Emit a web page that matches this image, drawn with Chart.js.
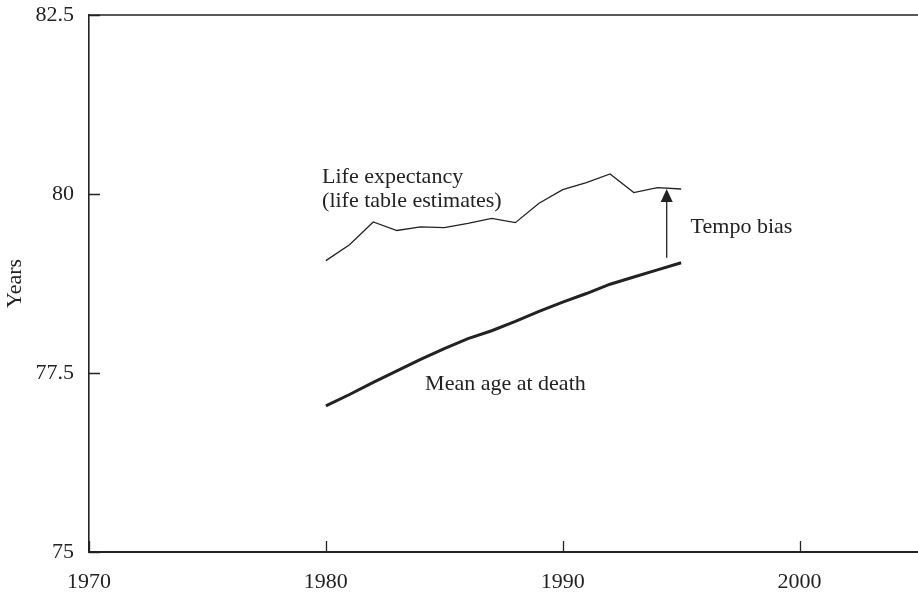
<!DOCTYPE html>
<html>
<head>
<meta charset="utf-8">
<title>Tempo bias</title>
<script src="https://cdn.jsdelivr.net/npm/chart.js@4.4.1/dist/chart.umd.min.js"></script>
<style>
  html, body { margin: 0; padding: 0; background: #fff; }
  #wrap { width: 918px; height: 594px; }
</style>
</head>
<body>
<div id="wrap"><canvas id="tempoChart" width="918" height="594"></canvas></div>
<script>
/* -------------------------------------------------------------------------- */
/* DATA                                                                       */
/* -------------------------------------------------------------------------- */
const years = [1980, 1981, 1982, 1983, 1984, 1985, 1986, 1987, 1988, 1989, 1990, 1991, 1992, 1993, 1994, 1995];
const lifeExpectancy = [79.07, 79.29, 79.61, 79.49, 79.54, 79.53, 79.59, 79.66, 79.60, 79.87, 80.06, 80.16, 80.28, 80.02, 80.09, 80.07];
const meanAgeAtDeath = [77.04, 77.20, 77.37, 77.53, 77.69, 77.84, 77.98, 78.09, 78.22, 78.36, 78.49, 78.61, 78.74, 78.84, 78.94, 79.04];

const xTicks = [1970, 1980, 1990, 2000];
const yTicks = [75, 77.5, 80, 82.5];

// annotations: [year, value]
const tempoArrow = { x: 1994.39, from: 79.11, to: 80.07 };
const notes = [
    { text: 'Life expectancy', x: 1979.84, y: 80.15 },
    { text: '(life table estimates)', x: 1979.84, y: 79.82 },
    { text: 'Mean age at death', x: 1984.19, y: 77.26 },
    { text: 'Tempo bias', x: 1995.40, y: 79.46 }
];

/* -------------------------------------------------------------------------- */
/* CHART                                                                      */
/* -------------------------------------------------------------------------- */
document.addEventListener('DOMContentLoaded', function() {
    const ink = '#222222';
    const serif = "'Liberation Serif', 'DejaVu Serif', serif";

    // ticks drawn inward, top frame line, arrow and text labels
    const framePlugin = {
        id: 'frame',
        afterDraw(chart) {
            const ctx = chart.ctx;
            const xs = chart.scales.x;
            const ys = chart.scales.y;
            const area = chart.chartArea;

            ctx.save();
            ctx.strokeStyle = ink;
            ctx.lineWidth = 1.3;

            ctx.beginPath();
            xTicks.forEach(v => {
                const px = Math.round(xs.getPixelForValue(v)) + 0.5;
                ctx.moveTo(px, area.bottom);
                ctx.lineTo(px, area.bottom - 11);
            });
            yTicks.forEach(v => {
                const py = Math.round(ys.getPixelForValue(v)) + 0.5;
                ctx.moveTo(area.left, py);
                ctx.lineTo(area.left + 11, py);
            });
            ctx.stroke();

            // top frame
            ctx.lineWidth = 1.6;
            ctx.beginPath();
            ctx.moveTo(area.left, area.top);
            ctx.lineTo(area.right, area.top);
            ctx.stroke();

            // tempo bias arrow
            const ax = xs.getPixelForValue(tempoArrow.x);
            const yFrom = ys.getPixelForValue(tempoArrow.from);
            const yTo = ys.getPixelForValue(tempoArrow.to);
            ctx.lineWidth = 1.3;
            ctx.beginPath();
            ctx.moveTo(ax, yFrom);
            ctx.lineTo(ax, yTo + 10);
            ctx.stroke();
            ctx.fillStyle = ink;
            ctx.beginPath();
            ctx.moveTo(ax, yTo);
            ctx.lineTo(ax - 6, yTo + 13);
            ctx.lineTo(ax + 6, yTo + 13);
            ctx.closePath();
            ctx.fill();

            // text labels
            ctx.font = '22px ' + serif;
            ctx.textAlign = 'left';
            ctx.textBaseline = 'alphabetic';
            notes.forEach(n => {
                ctx.fillText(n.text, xs.getPixelForValue(n.x), ys.getPixelForValue(n.y));
            });
            ctx.restore();
        }
    };

    new Chart(document.getElementById('tempoChart').getContext('2d'), {
        type: 'line',
        data: {
            datasets: [{
                label: 'Life expectancy',
                data: years.map((yr, i) => ({ x: yr, y: lifeExpectancy[i] })),
                borderColor: ink,
                borderWidth: 1.3,
                pointRadius: 0,
                tension: 0
            }, {
                label: 'Mean age at death',
                data: years.map((yr, i) => ({ x: yr, y: meanAgeAtDeath[i] })),
                borderColor: ink,
                borderWidth: 3,
                pointRadius: 0,
                tension: 0
            }]
        },
        options: {
            responsive: false,
            animation: false,
            layout: { padding: { top: 15, right: 0, left: 0, bottom: 0 } },
            plugins: {
                legend: { display: false },
                tooltip: { enabled: false }
            },
            scales: {
                x: {
                    type: 'linear',
                    min: 1970,
                    max: 2005,
                    afterBuildTicks: scale => { scale.ticks = xTicks.map(v => ({ value: v })); },
                    afterFit: scale => {
                        scale.height = 42;
                        scale.paddingLeft = 0;
                        scale.paddingRight = 0;
                    },
                    ticks: {
                        padding: 17,
                        color: ink,
                        font: { family: serif, size: 22 },
                        callback: v => String(v)
                    },
                    grid: { display: false, drawTicks: false },
                    border: { display: true, color: ink, width: 2 }
                },
                y: {
                    min: 75,
                    max: 82.5,
                    afterBuildTicks: scale => { scale.ticks = yTicks.map(v => ({ value: v })); },
                    afterFit: scale => {
                        scale.width = 89;
                        scale.paddingTop = 0;
                        scale.paddingBottom = 0;
                    },
                    ticks: {
                        padding: 15,
                        color: ink,
                        font: { family: serif, size: 22 },
                        callback: v => String(v)
                    },
                    title: {
                        display: true,
                        text: 'Years',
                        color: ink,
                        font: { family: serif, size: 22 },
                        padding: { top: 2, bottom: 0 }
                    },
                    grid: { display: false, drawTicks: false },
                    border: { display: true, color: ink, width: 1.6 }
                }
            }
        },
        plugins: [framePlugin]
    });
});
</script>
</body>
</html>
